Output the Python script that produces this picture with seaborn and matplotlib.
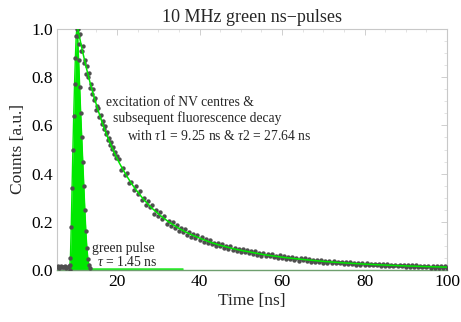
import numpy as np
import pandas as pd
import matplotlib
matplotlib.use("Agg")
import matplotlib.pyplot as plt
import seaborn as sns

# ---------------- data ----------------
# baseline before excitation
base_t = [5.5, 5.75, 6.0, 6.25, 6.5, 6.75, 7.0, 7.25, 7.5, 7.75, 8.0, 8.25, 8.5]
base_y = [0.012, 0.015, 0.010, 0.013, 0.016, 0.011, 0.014, 0.012, 0.015, 0.010, 0.013, 0.016, 0.020]

# green excitation pulse (measured)
pulse_t = [8.5, 8.7, 8.9, 9.1, 9.3, 9.5, 9.7, 9.9, 10.1, 10.25, 10.45, 10.7, 10.95,
           11.2, 11.45, 11.7, 11.95, 12.2, 12.45, 12.7, 12.95, 13.2, 13.5, 14.0, 36.0]
pulse_y = [0.0, 0.05, 0.18, 0.34, 0.50, 0.64, 0.77, 0.88, 0.97, 1.00, 0.97, 0.87, 0.76,
           0.65, 0.55, 0.45, 0.35, 0.25, 0.16, 0.09, 0.045, 0.02, 0.008, 0.004, 0.004]

# fluorescence decay (measured), early part sampled every 0.25 ns, later every 0.5 ns
decay_t_early = np.arange(10.5, 20.01, 0.25)
decay_y_early = [1.000, 0.939, 0.978, 0.908, 0.908, 0.929, 0.860, 0.871, 0.813, 0.846,
                 0.799, 0.817, 0.755, 0.770, 0.729, 0.749, 0.704, 0.714, 0.665, 0.681,
                 0.673, 0.633, 0.642, 0.605, 0.619, 0.586, 0.599, 0.565, 0.571, 0.539,
                 0.548, 0.520, 0.531, 0.504, 0.509, 0.480, 0.488, 0.464, 0.474]
decay_t_late = np.arange(20.5, 100.01, 0.5)
decay_y_late = [0.460, 0.414, 0.424, 0.394, 0.403, 0.359, 0.364, 0.330, 0.348, 0.316,
                0.328, 0.290, 0.298, 0.268, 0.285, 0.260, 0.270, 0.232, 0.249, 0.222,
                0.241, 0.213, 0.223, 0.192, 0.205, 0.184, 0.201, 0.175, 0.187, 0.161,
                0.174, 0.159, 0.170, 0.146, 0.159, 0.136, 0.149, 0.131, 0.145, 0.126,
                0.137,
                0.118, 0.128, 0.114, 0.125, 0.107, 0.114, 0.099, 0.113, 0.100, 0.106,
                0.090, 0.101, 0.088, 0.100, 0.084, 0.093, 0.077, 0.088, 0.076, 0.086,
                0.073, 0.082, 0.069, 0.078, 0.068, 0.077, 0.062, 0.070, 0.060, 0.070,
                0.057, 0.067, 0.057, 0.065, 0.052, 0.060, 0.051, 0.061, 0.048, 0.057,
                0.045, 0.055, 0.046, 0.054, 0.042, 0.049, 0.039, 0.049, 0.040, 0.048,
                0.037, 0.047, 0.035, 0.042, 0.033, 0.043, 0.034, 0.041, 0.031, 0.038,
                0.030, 0.038, 0.030, 0.036, 0.028, 0.035, 0.028, 0.033, 0.026, 0.032,
                0.025, 0.032, 0.024, 0.030, 0.022, 0.029, 0.022, 0.029, 0.021, 0.027,
                0.020, 0.026, 0.020, 0.026, 0.019, 0.025, 0.017, 0.024, 0.017, 0.024,
                0.017, 0.022, 0.015, 0.022, 0.015, 0.022, 0.015, 0.020, 0.013, 0.020,
                0.013, 0.020, 0.013, 0.019, 0.011, 0.018, 0.012, 0.018, 0.011, 0.017,
                0.010, 0.016, 0.010, 0.017, 0.010, 0.015, 0.008, 0.015, 0.009]

# bi-exponential fit curve (tau1 = 9.25 ns, tau2 = 27.64 ns)
fit_t = [10.5, 11.5, 12.5, 13.5, 14.5, 15.5, 16.5, 17.5, 18.5, 19.5, 20.5, 21.5, 22.5,
         23.5, 24.5, 25.5, 26.5, 27.5, 28.5, 29.5, 30.5, 31.5, 32.5, 33.5, 34.5, 35.5,
         36.5, 37.5, 38.5, 39.5, 40.5, 42.5, 44.5, 46.5, 48.5, 50.5, 55.5, 60.5, 65.5,
         70.5, 75.5, 80.5, 85.5, 90.5, 95.5, 100.0]
fit_y = [1.000, 0.918, 0.843, 0.775, 0.714, 0.658, 0.607, 0.561, 0.519, 0.481, 0.446,
         0.415, 0.386, 0.359, 0.335, 0.313, 0.292, 0.274, 0.256, 0.241, 0.226, 0.213,
         0.200, 0.189, 0.178, 0.168, 0.159, 0.151, 0.143, 0.136, 0.129, 0.116, 0.105,
         0.096, 0.087, 0.080, 0.064, 0.052, 0.043, 0.035, 0.029, 0.024, 0.020, 0.0167,
         0.0139, 0.0118]

x_ticks = [20, 40, 60, 80, 100]
y_ticks = [0.0, 0.2, 0.4, 0.6, 0.8, 1.0]

# ---------------- style ----------------
sns.set_style("white")
plt.rcParams["font.family"] = ["Liberation Serif", "DejaVu Serif"]
plt.rcParams["mathtext.fontset"] = "custom"
plt.rcParams["mathtext.rm"] = "Liberation Serif"
plt.rcParams["mathtext.it"] = "Liberation Serif:italic"

fig = plt.figure(figsize=(4.61, 3.22), dpi=100)
ax = fig.add_axes([57 / 461, 1 - 270 / 322, 390 / 461, 241 / 322])

green = "#00e800"
dot = "#4f4f4f"

# green pulse fill
ax.fill_between(pulse_t, 0, pulse_y, color=green, linewidth=0, zorder=2)
sns.lineplot(x=pulse_t, y=pulse_y, ax=ax, color=green, linewidth=1.0, zorder=2,
             sort=False, estimator=None)

pulse_df = pd.DataFrame({"t": pulse_t[:-2], "y": pulse_y[:-2]})
decay_df = pd.DataFrame({
    "t": list(base_t) + list(decay_t_early) + list(decay_t_late),
    "y": list(base_y) + list(decay_y_early) + list(decay_y_late),
})
sns.scatterplot(data=pulse_df, x="t", y="y", ax=ax, color=dot, s=10,
                linewidth=0, zorder=3)
sns.scatterplot(data=decay_df, x="t", y="y", ax=ax, color=dot, s=10,
                linewidth=0, zorder=3)

# fit line
sns.lineplot(x=fit_t, y=fit_y, ax=ax, color=green, linewidth=1.1, zorder=4,
             sort=False, estimator=None)

ax.set_xlim(5.45, 100)
ax.set_ylim(0, 1.0)
ax.set_xticks(x_ticks)
ax.set_yticks(y_ticks)
ax.set_xticklabels([str(v) for v in x_ticks])
ax.set_yticklabels([f"{v:.1f}" for v in y_ticks])
ax.set_xticks(np.arange(10, 100, 5), minor=True)
ax.set_yticks(np.arange(0.05, 1.0, 0.05), minor=True)
ax.tick_params(axis="both", which="major", direction="in", length=4, width=0.6,
               color="#c8c8c8", labelsize=12.5, pad=3, top=True, right=True,
               labelcolor="black")
ax.tick_params(axis="both", which="minor", direction="in", length=2, width=0.5,
               color="#d8d8d8", top=True, right=True)

for side in ["left", "top", "right"]:
    ax.spines[side].set_color("#c8c8c8")
    ax.spines[side].set_linewidth(0.8)
ax.spines["bottom"].set_color("#6f9f6f")
ax.spines["bottom"].set_linewidth(1.0)

ax.set_xlabel("Time [ns]", fontsize=12.5, labelpad=2)
ax.set_ylabel("Counts [a.u.]", fontsize=12.5, labelpad=4)
ax.set_title("10 MHz green ns\u2212pulses", fontsize=13, pad=5)

# annotations
ax.text(17.3, 0.697, "excitation of NV centres &", fontsize=9.8, va="center", ha="left")
ax.text(19.0, 0.631, "subsequent fluorescence decay", fontsize=9.8, va="center", ha="left")
ax.text(22.4, 0.556, r"with $\tau$1 = 9.25 ns & $\tau$2 = 27.64 ns", fontsize=9.8,
        va="center", ha="left")
ax.text(13.9, 0.091, "green pulse", fontsize=9.8, va="center", ha="left")
ax.text(15.1, 0.033, r"$\tau$ = 1.45 ns", fontsize=9.8, va="center", ha="left")

fig.savefig("out.png", dpi=100)
